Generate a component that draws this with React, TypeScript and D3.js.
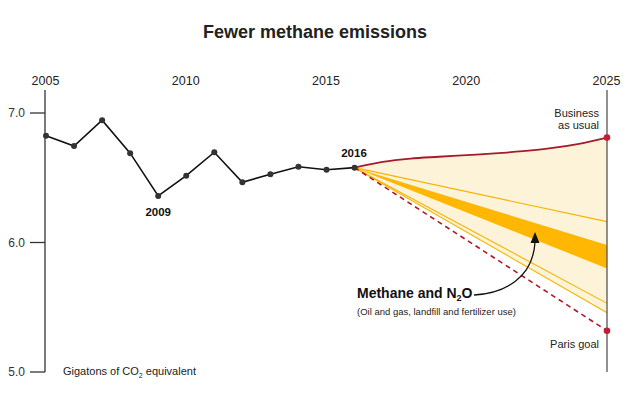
import React from "react";
import * as d3 from "d3";

const histYears = [2005, 2006, 2007, 2008, 2009, 2010, 2011, 2012, 2013, 2014, 2015, 2016];
const histValues = [6.825, 6.745, 6.944, 6.69, 6.36, 6.516, 6.697, 6.465, 6.527, 6.585, 6.562, 6.578];
const bauYears = [2016, 2017, 2018, 2019, 2020, 2021, 2022, 2023, 2024, 2025];
const bauValues = [6.578, 6.622, 6.648, 6.662, 6.675, 6.688, 6.705, 6.728, 6.762, 6.81];
const startYear = 2016;
const endYear = 2025;
const parisGoal = 5.319;
const thinLineEnds = [6.161, 5.53, 5.458];
const bandEnds = [5.98, 5.8];
const yearTicks = [2005, 2010, 2015, 2020, 2025];
const valueTicks = [7.0, 6.0, 5.0];

const W = 630;
const H = 393;

export default function App() {
  const x = d3.scaleLinear().domain([2005, 2025]).range([46, 607]);
  const y = d3.scaleLinear().domain([5, 7]).range([372, 113]);
  const startVal = histValues[histValues.length - 1];
  const x0 = x(startYear), y0 = y(startVal), x1 = x(endYear);

  const histLine = d3.line<number>().x((_, i) => x(histYears[i])).y((d) => y(d))(histValues) || "";
  const bauLine =
    d3.line<number>().x((_, i) => x(bauYears[i])).y((d) => y(d)).curve(d3.curveMonotoneX)(bauValues) || "";
  const lowest = Math.min(...thinLineEnds);
  const fillArea =
    d3
      .area<number>()
      .x((_, i) => x(bauYears[i]))
      .y0((_, i) => y(startVal + ((lowest - startVal) * (bauYears[i] - startYear)) / (endYear - startYear)))
      .y1((d) => y(d))
      .curve(d3.curveMonotoneX)(bauValues) || "";
  const bandPath = `M${x0},${y0}L${x1},${y(bandEnds[0])}L${x1},${y(bandEnds[1])}Z`;
  const font = "'Liberation Sans', Arial, sans-serif";

  return (
    <svg width={W} height={H} style={{ position: "absolute", left: 0, top: 0 }} fontFamily={font}>
      <text x={315} y={38} textAnchor="middle" fontSize={18} fontWeight="bold" fill="#222">
        Fewer methane emissions
      </text>
      {yearTicks.map((t) => (
        <text key={t} x={x(t) - 0.5} y={85} textAnchor="middle" fontSize={12.5} fill="#222">
          {t}
        </text>
      ))}
      {/* left axis */}
      <line x1={45} x2={45} y1={90} y2={y(5)} stroke="#333" strokeWidth={1.3} />
      {valueTicks.map((t) => (
        <g key={t}>
          <line x1={30} x2={45} y1={y(t)} y2={y(t)} stroke="#333" strokeWidth={1.3} />
          <text x={25} y={y(t) + 4} textAnchor="end" fontSize={12} fill="#333">
            {t.toFixed(1)}
          </text>
        </g>
      ))}
      <text x={63} y={375} fontSize={11} fill="#222">
        Gigatons of CO<tspan fontSize={7} dy={3}>2</tspan>
        <tspan dy={-3}> equivalent</tspan>
      </text>

      {/* projections */}
      <path d={fillArea} fill="#fdf3d8" />
      <path d={bandPath} fill="#ffb703" />
      {thinLineEnds.map((v, i) => (
        <line key={i} x1={x0} y1={y0} x2={x1} y2={y(v)} stroke="#f5b400" strokeWidth={1.1} />
      ))}
      <line x1={x0} y1={y0} x2={x1} y2={y(parisGoal)} stroke="#b0172a" strokeWidth={1.6} strokeDasharray="5,4" />
      <path d={bauLine} fill="none" stroke="#a8192b" strokeWidth={1.8} />

      {/* right line */}
      <line x1={607} x2={607} y1={90} y2={y(5)} stroke="#555" strokeWidth={1.3} />

      {/* history */}
      <path d={histLine} fill="none" stroke="#111" strokeWidth={1.6} />
      {histValues.map((v, i) => (
        <circle key={i} cx={x(histYears[i])} cy={y(v)} r={3} fill="#333" />
      ))}
      <circle cx={x1} cy={y(bauValues[bauValues.length - 1])} r={3.3} fill="#c21f36" />
      <circle cx={x1} cy={y(parisGoal)} r={3.3} fill="#c21f36" />

      {/* labels */}
      <text x={x(2009)} y={216} textAnchor="middle" fontSize={11.5} fontWeight="bold" fill="#111">
        2009
      </text>
      <text x={354} y={157} textAnchor="middle" fontSize={11.5} fontWeight="bold" fill="#111">
        2016
      </text>
      <text x={599} y={117} textAnchor="end" fontSize={11} fill="#222">
        Business
      </text>
      <text x={599} y={129} textAnchor="end" fontSize={11} fill="#222">
        as usual
      </text>
      <text x={599} y={348} textAnchor="end" fontSize={11} fill="#222">
        Paris goal
      </text>
      <text x={357} y={298} fontSize={14} fontWeight="bold" fill="#111">
        Methane and N<tspan fontSize={9} dy={3}>2</tspan>
        <tspan dy={-3}>O</tspan>
      </text>
      <text x={357} y={315} fontSize={9.5} fill="#222">
        (Oil and gas, landfill and fertilizer use)
      </text>
      <path d="M474,295 C505,293 533,278 535,242" fill="none" stroke="#111" strokeWidth={1.3} />
      <path d="M535,232 L530.5,243 L539.5,243 Z" fill="#111" />
    </svg>
  );
}
